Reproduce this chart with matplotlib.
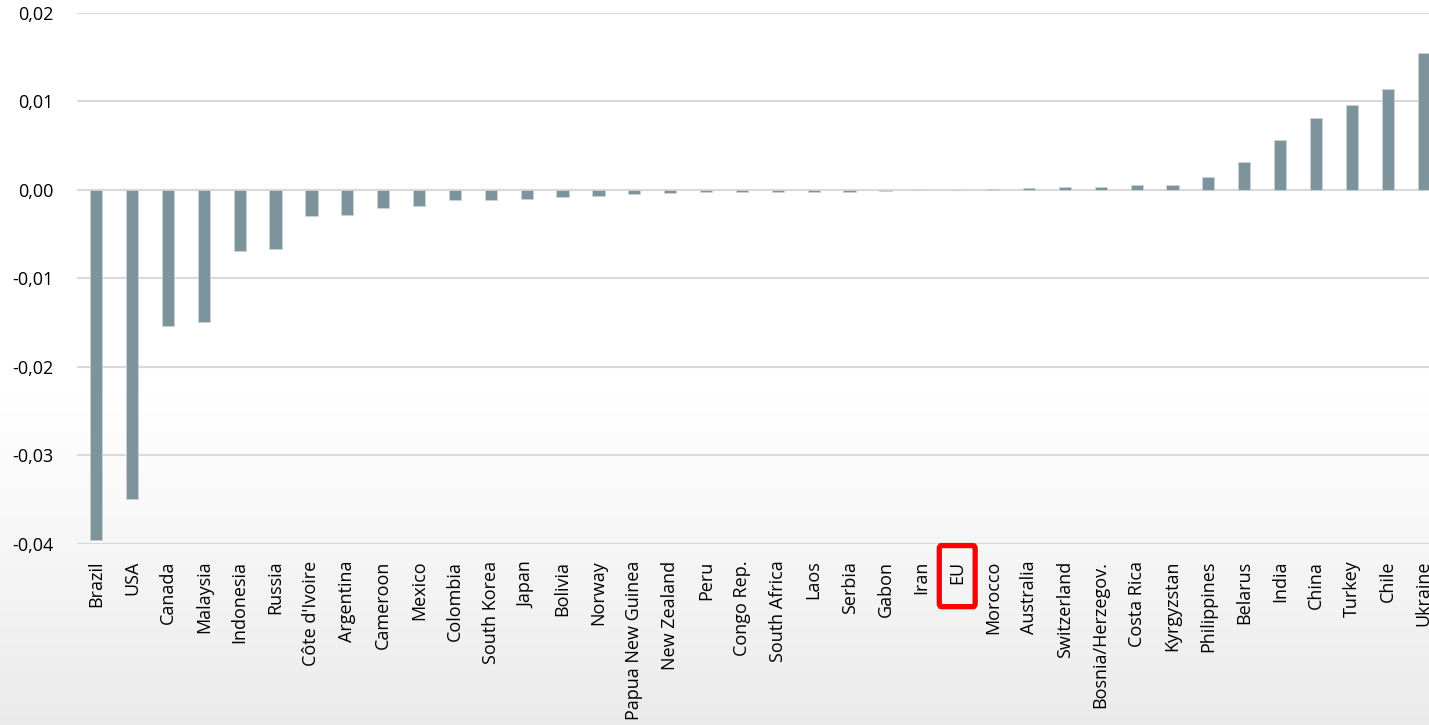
import matplotlib.pyplot as plt
import numpy as np
from matplotlib.patches import FancyBboxPatch
from matplotlib.transforms import blended_transform_factory

countries = ["Brazil", "USA", "Canada", "Malaysia", "Indonesia", "Russia",
             "Côte d'Ivoire", "Argentina", "Cameroon", "Mexico", "Colombia",
             "South Korea", "Japan", "Bolivia", "Norway", "Papua New Guinea",
             "New Zealand", "Peru", "Congo Rep.", "South Africa", "Laos",
             "Serbia", "Gabon", "Iran", "EU", "Morocco", "Australia",
             "Switzerland", "Bosnia/Herzegov.", "Costa Rica", "Kyrgyzstan",
             "Philippines", "Belarus", "India", "China", "Turkey", "Chile",
             "Ukraine"]
values = [-0.0395, -0.0349, -0.0154, -0.0149, -0.0069, -0.0067,
          -0.0030, -0.0028, -0.0021, -0.0018, -0.0012,
          -0.0011, -0.0010, -0.0008, -0.0007, -0.0005,
          -0.0004, -0.0003, -0.0003, -0.00025, -0.0002,
          -0.0002, -0.0001, 0.0, 0.0, 0.0001, 0.0002,
          0.0003, 0.0003, 0.0005, 0.0006,
          0.0015, 0.0031, 0.0056, 0.0081, 0.0096, 0.0114,
          0.0154]
yticks = [-0.04, -0.03, -0.02, -0.01, 0.0, 0.01, 0.02]
highlight = "EU"

plt.rcParams['font.family'] = ['Open Sans', 'DejaVu Sans']

fig = plt.figure(figsize=(14.29, 7.25), dpi=100)

# background: white on top, fading to light grey at the bottom
bg = fig.add_axes([0, 0, 1, 1], zorder=-10)
t = np.linspace(0, 1, 200)
start = 0.5
g = np.where(t < start, 1.0, 1.0 - 0.085 * ((t - start) / (1 - start)) ** 1.2)
grad = g[:, None]
bg.imshow(grad, aspect='auto', cmap='gray', vmin=0, vmax=1,
          extent=[0, 1, 0, 1], origin='upper')
bg.axis('off')

ax = fig.add_axes([0.054, 0.2497, 0.946, 0.7327])
ax.patch.set_alpha(0)

x = np.arange(len(countries))
ax.bar(x, values, width=0.34, color='#7d949c', edgecolor='#c9d3d6',
       linewidth=0.6, zorder=3)

ax.set_ylim(-0.04, 0.02)
ax.set_xlim(-0.53, 37.15)
ax.set_yticks(yticks)
ax.set_yticklabels([f"{v:.2f}".replace('.', ',') for v in yticks])
ax.yaxis.grid(True, color='#d9d9d9', linewidth=1.5, zorder=0)
ax.set_axisbelow(True)
for s in ax.spines.values():
    s.set_visible(False)
ax.tick_params(axis='both', length=0, labelsize=13, colors='black')
ax.tick_params(axis='y', pad=17)
ax.set_xticks(x)
ax.set_xticklabels(countries, rotation=90, va='top', ha='center')
ax.tick_params(axis='x', pad=12)

# red box around the EU label
i = countries.index(highlight)
tr = blended_transform_factory(ax.transData, ax.transAxes)
box = FancyBboxPatch((i - 0.5, -0.118), 1.0, 0.115,
                     boxstyle='round,pad=0,rounding_size=0.06',
                     transform=tr, fill=False, edgecolor='#ff0000',
                     linewidth=3.8, clip_on=False, mutation_aspect=0.1)
ax.add_patch(box)

fig.savefig('out.png', dpi=100)
